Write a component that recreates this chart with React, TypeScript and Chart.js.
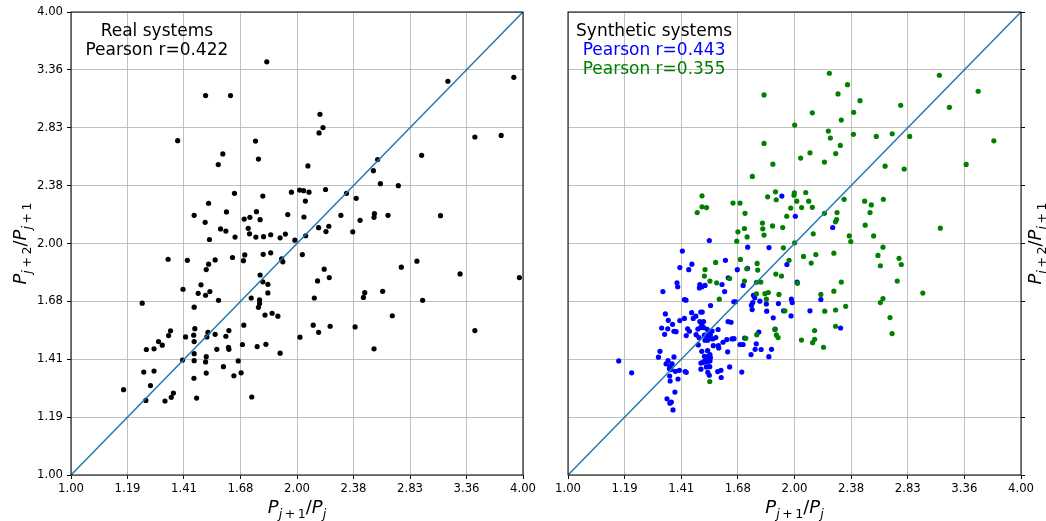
import React, { useEffect, useRef } from 'react';
import { Chart, registerables } from 'chart.js';

Chart.register(...registerables);

// ---- axis ticks (log2 spaced, 2^(k/4)) ----
const tickValues = [1, 1.18921, 1.41421, 1.68179, 2, 2.37841, 2.82843, 3.36359, 4];
const tickLabels = ['1.00', '1.19', '1.41', '1.68', '2.00', '2.38', '2.83', '3.36', '4.00'];

// ---- y = x reference line ----
const diagonal: [number, number][] = [[1, 1], [4, 4]];

// ---- annotations ----
const realNotes = ['Real systems', 'Pearson r=0.422'];
const synthNotes = ['Synthetic systems', 'Pearson r=0.443', 'Pearson r=0.355'];

// ---- Real systems: [P_{j+1}/P_j, P_{j+2}/P_{j+1}] ----
const realSystems: [number, number][] = [
  [1.823, 3.446], [1.511, 3.114], [1.631, 3.114], [3.177, 3.251], [3.889, 3.289],
  [2.146, 2.944], [2.166, 2.830], [2.140, 2.785], [1.387, 2.721], [1.761, 2.718],
  [1.593, 2.615], [1.777, 2.575], [1.571, 2.533], [2.068, 2.523], [3.451, 2.751],
  [3.741, 2.764], [2.931, 2.604], [2.561, 2.571], [2.528, 2.487], [2.583, 2.392],
  [2.729, 2.378], [1.651, 2.324], [1.525, 2.256], [1.801, 2.305], [1.966, 2.332],
  [2.016, 2.347], [2.041, 2.343], [2.075, 2.332], [2.183, 2.351], [2.052, 2.271],
  [2.328, 2.324], [2.398, 2.290], [1.459, 2.176], [1.509, 2.131], [1.611, 2.198],
  [1.701, 2.152], [1.731, 2.163], [1.766, 2.200], [1.786, 2.148], [1.944, 2.181],
  [2.043, 2.165], [2.137, 2.097], [2.205, 2.106], [2.288, 2.176], [2.427, 2.144],
  [2.536, 2.187], [2.533, 2.163], [2.644, 2.176], [3.106, 2.174], [1.582, 2.089],
  [1.722, 2.093],
  [1.608, 2.076], [1.529, 2.024], [1.654, 2.039], [1.729, 2.059], [1.763, 2.039],
  [1.805, 2.041], [1.845, 2.053], [1.899, 2.034], [1.930, 2.057], [1.987, 2.020],
  [2.054, 2.047], [2.186, 2.073], [2.373, 2.071], [1.347, 1.908], [1.429, 1.902],
  [1.514, 1.850], [1.525, 1.880], [1.556, 1.904], [1.641, 1.918], [1.697, 1.900],
  [1.704, 1.933], [1.803, 1.936], [1.845, 1.945], [1.908, 1.910], [1.915, 1.893],
  [2.033, 1.935], [1.786, 1.820], [1.801, 1.783], [1.829, 1.770], [1.829, 1.725],
  [1.738, 1.699], [1.783, 1.689], [1.783, 1.671], [1.777, 1.652], [1.813, 1.614],
  [1.853, 1.623], [1.886, 1.609], [2.130, 1.788], [2.174, 1.852], [2.208, 1.806],
  [2.109, 1.699], [2.452, 1.702], [2.462, 1.726], [2.601, 1.733], [2.754, 1.863],
  [2.889, 1.897], [3.298, 1.826], [3.956, 1.806], [2.940, 1.687], [2.679, 1.611],
  [2.390, 1.558], [2.214, 1.561], [2.102, 1.566], [2.137, 1.533], [2.018, 1.511],
  [2.533, 1.459], [3.451, 1.541], [1.899, 1.440], [1.818, 1.479], [1.770, 1.469],
  [1.699, 1.566], [1.692, 1.478], [1.623, 1.541], [1.608, 1.515], [1.621, 1.466],
  [1.623, 1.457], [1.556, 1.524], [1.522, 1.533], [1.517, 1.512], [1.564, 1.457],
  [1.462, 1.550], [1.457, 1.520], [1.459, 1.491], [1.421, 1.512], [1.357, 1.540],
  [1.349, 1.518], [1.308, 1.491], [1.323, 1.475], [1.260, 1.456], [1.290, 1.459],
  [1.244, 1.673], [1.410, 1.744], [1.490, 1.767], [1.477, 1.723], [1.511, 1.713],
  [1.531, 1.732], [1.572, 1.687], [1.459, 1.653], [1.408, 1.411], [1.459, 1.438],
  [1.459, 1.408], [1.511, 1.403], [1.514, 1.425], [1.514, 1.357], [1.458, 1.336],
  [1.596, 1.383], [1.670, 1.407], [1.685, 1.358], [1.648, 1.346], [1.470, 1.259],
  [1.741, 1.263], [1.175, 1.291], [1.250, 1.361], [1.290, 1.365], [1.276, 1.307],
  [1.258, 1.250], [1.334, 1.248], [1.360, 1.262], [1.369, 1.278],
];

// ---- Synthetic systems, first series (blue) ----
const syntheticBlue: [number, number][] = [
  [1.419, 1.955], [1.408, 1.861], [1.461, 1.880], [1.447, 1.849], [1.619, 1.902],
  [1.679, 1.849], [1.732, 1.856], [1.396, 1.778], [1.399, 1.757], [1.337, 1.732],
  [1.497, 1.769], [1.507, 1.757], [1.521, 1.764], [1.602, 1.769], [1.615, 1.732],
  [1.709, 1.764], [1.633, 1.805], [1.661, 1.680], [1.669, 1.680], [1.764, 1.713],
  [1.771, 1.700], [1.753, 1.663], [1.757, 1.641], [1.760, 1.676], [1.799, 1.683],
  [1.835, 1.669], [1.837, 1.633], [1.874, 1.601], [1.904, 1.671], [1.981, 1.693],
  [1.986, 1.676], [1.934, 1.635], [1.979, 1.610], [1.547, 1.661], [1.428, 1.691],
  [1.435, 1.688], [1.347, 1.620], [1.359, 1.589], [1.332, 1.553], [1.357, 1.549],
  [1.377, 1.570], [1.344, 1.524], [1.383, 1.538], [1.392, 1.536], [1.408, 1.588],
  [1.428, 1.598], [1.460, 1.626], [1.467, 1.598], [1.479, 1.609], [1.501, 1.629],
  [1.508, 1.629], [1.497, 1.583], [1.514, 1.583], [1.506, 1.569], [1.515, 1.555],
  [1.501, 1.555], [1.488, 1.548], [1.480, 1.522], [1.442, 1.549], [1.450, 1.538],
  [1.436, 1.518], [1.531, 1.547], [1.540, 1.534], [1.554, 1.539], [1.583, 1.546],
  [1.572, 1.509], [1.538, 1.504], [1.557, 1.503], [1.521, 1.497], [1.533, 1.497],
  [1.527, 1.520], [1.546, 1.522], [1.493, 1.509], [1.518, 1.520], [1.490, 1.476],
  [1.560, 1.473], [1.584, 1.473], [1.607, 1.488], [1.626, 1.500], [1.652, 1.503],
  [1.662, 1.504], [1.632, 1.583], [1.647, 1.580], [1.717, 1.507], [1.709, 1.478],
  [1.779, 1.481], [1.773, 1.457], [1.806, 1.456], [1.864, 1.457], [1.793, 1.534],
  [1.885, 1.548], [1.693, 1.478], [1.751, 1.434], [1.849, 1.425], [1.586, 1.463],
  [1.630, 1.446], [1.506, 1.448], [1.533, 1.451], [1.544, 1.434], [1.518, 1.427],
  [1.527, 1.424], [1.538, 1.425], [1.546, 1.421], [1.521, 1.408], [1.511, 1.401],
  [1.531, 1.403], [1.544, 1.407], [1.502, 1.398], [1.527, 1.382], [1.543, 1.383],
  [1.502, 1.373], [1.534, 1.360], [1.541, 1.348], [1.581, 1.363], [1.597, 1.368],
  [1.598, 1.339], [1.640, 1.382], [1.702, 1.361], [1.325, 1.448], [1.319, 1.423],
  [1.358, 1.408], [1.350, 1.395], [1.366, 1.385], [1.375, 1.395], [1.383, 1.424],
  [1.364, 1.375], [1.371, 1.371], [1.389, 1.364], [1.406, 1.368], [1.431, 1.363],
  [1.436, 1.360], [1.400, 1.333], [1.365, 1.345], [1.367, 1.325], [1.387, 1.282],
  [1.354, 1.256], [1.372, 1.244], [1.366, 1.240], [1.379, 1.215], [1.168, 1.407],
  [1.215, 1.358], [1.495, 1.751],
  [1.924, 2.305], [2.005, 2.170], [2.248, 2.098], [1.541, 2.018], [1.733, 1.978],
  [1.850, 1.976], [1.954, 1.878], [2.016, 1.782], [2.168, 1.691], [2.097, 1.635],
  [2.303, 1.553],
];

// ---- Synthetic systems, second series (green) ----
const syntheticGreen: [number, number][] = [
  [2.225, 3.330], [2.352, 3.218], [2.285, 3.130], [1.822, 3.121], [2.444, 3.067],
  [3.116, 3.310], [3.509, 3.155], [2.768, 3.025], [3.213, 3.007], [2.112, 2.958],
  [2.397, 2.962], [2.308, 2.894], [2.001, 2.851], [2.218, 2.800], [2.232, 2.743],
  [2.395, 2.773], [2.569, 2.756], [2.697, 2.778], [2.845, 2.756], [2.301, 2.683],
  [1.822, 2.699], [2.097, 2.624], [2.038, 2.583], [2.269, 2.618], [2.192, 2.552],
  [3.681, 2.720], [1.872, 2.536], [2.639, 2.521], [2.798, 2.499], [3.382, 2.534],
  [3.125, 2.094], [1.758, 2.445], [1.887, 2.335], [1.842, 2.300], [1.891, 2.280],
  [1.999, 2.328], [1.997, 2.311], [2.070, 2.330], [2.014, 2.270], [2.089, 2.270],
  [1.507, 2.307], [1.507, 2.232], [1.528, 2.227], [1.485, 2.194], [1.657, 2.257],
  [1.693, 2.257], [1.719, 2.189], [1.977, 2.224], [2.044, 2.227], [2.112, 2.229],
  [1.953, 2.170], [2.192, 2.189], [2.278, 2.194], [2.275, 2.149], [2.267, 2.134],
  [2.328, 2.283], [2.479, 2.270], [2.530, 2.245], [2.625, 2.283], [2.520, 2.194],
  [2.483, 2.113], [2.548, 2.046], [2.365, 2.046], [2.376, 2.012], [2.118, 2.059],
  [1.929, 2.098], [1.870, 2.108], [1.813, 2.126], [1.815, 2.090], [1.822, 2.051],
  [1.730, 2.040], [1.716, 2.092], [1.682, 2.071], [1.676, 2.014], [1.933, 1.974],
  [2.001, 2.004], [2.622, 1.978],
  [1.521, 1.850], [1.571, 1.890], [1.518, 1.814], [1.544, 1.787], [1.576, 1.778],
  [1.640, 1.801], [1.695, 1.907], [1.728, 1.854], [1.784, 1.884], [1.787, 1.847],
  [1.716, 1.787], [1.780, 1.781], [1.804, 1.782], [1.589, 1.693], [1.780, 1.720],
  [1.827, 1.721], [1.846, 1.727], [1.835, 1.693], [1.907, 1.717], [1.889, 1.825],
  [1.922, 1.814], [1.967, 1.902], [2.018, 1.775], [1.942, 1.635], [1.883, 1.546],
  [1.892, 1.521], [1.902, 1.509], [1.782, 1.522], [1.723, 1.506], [1.543, 1.323],
  [2.056, 1.924], [2.135, 1.935], [2.256, 1.943], [2.105, 1.886], [2.308, 1.782],
  [2.256, 1.734], [2.168, 1.717], [2.194, 1.633], [2.268, 1.639], [2.339, 1.657],
  [2.127, 1.541], [2.268, 1.561], [2.043, 1.498], [2.127, 1.501], [2.114, 1.486],
  [2.186, 1.466], [2.582, 1.930], [2.601, 1.871], [2.754, 1.913], [2.773, 1.878],
  [2.739, 1.787], [2.622, 1.696], [2.601, 1.676], [2.679, 1.602], [2.696, 1.527],
  [2.962, 1.724],
];

const toXY = (arr: [number, number][]) => arr.map(([x, y]) => ({ x, y }));

// ---- mathtext-like axis titles ----
type Seg = [string, number, boolean]; // text, level (0 main, 1 subscript), italic
const xTitleSegs: Seg[] = [
  ['P', 0, true], ['j', 1, true], ['\u2009+\u2009', 1, false], ['1', 1, false],
  ['/', 0, false], ['P', 0, true], ['j', 1, true],
];
const yTitleSegs: Seg[] = [
  ['P', 0, true], ['j', 1, true], ['\u2009+\u2009', 1, false], ['2', 1, false],
  ['/', 0, false], ['P', 0, true], ['j', 1, true], ['\u2009+\u2009', 1, false], ['1', 1, false],
];

const MAIN_SIZE = 18;
const SUB_SIZE = 12.6;
const SUB_DY = 4.5;
const FONT = '"DejaVu Sans"';

function drawSegs(ctx: CanvasRenderingContext2D, segs: Seg[], cx: number, cy: number, angle: number) {
  ctx.save();
  ctx.translate(cx, cy);
  ctx.rotate(angle);
  ctx.textBaseline = 'alphabetic';
  ctx.textAlign = 'left';
  ctx.fillStyle = '#000';
  const fontFor = (lvl: number, it: boolean) =>
    `${it ? 'italic ' : ''}${lvl ? SUB_SIZE : MAIN_SIZE}px ${FONT}`;
  let total = 0;
  for (const [t, lvl, it] of segs) {
    ctx.font = fontFor(lvl, it);
    total += ctx.measureText(t).width;
  }
  let x = -total / 2;
  for (const [t, lvl, it] of segs) {
    ctx.font = fontFor(lvl, it);
    ctx.fillText(t, x, lvl ? SUB_DY : 0);
    x += ctx.measureText(t).width;
  }
  ctx.restore();
}

function decorPlugin(cfg: {
  yTitleX: number;
  notes: string[];
  noteColors: string[];
}) {
  return {
    id: 'decor',
    afterDraw(chart: any) {
      const { ctx, chartArea } = chart;
      const { left, right, top, bottom } = chartArea;
      ctx.save();
      // frame
      ctx.strokeStyle = '#000';
      ctx.lineWidth = 1;
      ctx.strokeRect(left, top, right - left, bottom - top);
      // notes
      ctx.font = `17px ${FONT}`;
      ctx.textAlign = 'center';
      ctx.textBaseline = 'middle';
      const nx = left + 0.19 * (right - left);
      cfg.notes.forEach((t, i) => {
        ctx.fillStyle = cfg.noteColors[i];
        ctx.fillText(t, nx, 32 + i * 19);
      });
      ctx.restore();
      // axis titles
      drawSegs(ctx, xTitleSegs, (left + right) / 2, 513, 0);
      drawSegs(ctx, yTitleSegs, cfg.yTitleX, (top + bottom) / 2, -Math.PI / 2);
    },
  };
}

function makeScales(side: 'left' | 'right', yWidth: number) {
  const tickFont = { family: 'DejaVu Sans', size: 11.7 };
  const common: any = {
    type: 'logarithmic',
    min: 1,
    max: 4,
    z: 1,
    afterBuildTicks: (s: any) => {
      s.ticks = tickValues.map((v) => ({ value: v }));
    },
    grid: { color: '#b0b0b0', lineWidth: 0.8, tickColor: '#000', tickLength: 4, tickWidth: 1 },
    border: { display: false },
  };
  return {
    x: {
      ...common,
      position: 'bottom',
      ticks: {
        autoSkip: false, maxRotation: 0, minRotation: 0, padding: 3, color: '#000',
        font: tickFont, callback: (_v: any, i: number) => tickLabels[i],
      },
      afterFit: (s: any) => { s.height = 46; },
    },
    y: {
      ...common,
      position: side,
      ticks: {
        display: side === 'left', autoSkip: false, padding: 4, color: '#000',
        font: tickFont, callback: (_v: any, i: number) => tickLabels[i],
      },
      afterFit: (s: any) => { s.width = yWidth; },
    },
  };
}

const pointStyle = (color: string, order: number) => ({
  backgroundColor: color,
  borderColor: color,
  borderWidth: 0,
  pointRadius: 2.6,
  pointHoverRadius: 2.6,
  order,
});

const lineDataset = () => ({
  data: toXY(diagonal),
  showLine: true,
  borderColor: '#1f77b4',
  borderWidth: 1.5,
  pointRadius: 0,
  pointHoverRadius: 0,
  order: 0,
});

export default function App() {
  const leftRef = useRef<HTMLCanvasElement>(null);
  const rightRef = useRef<HTMLCanvasElement>(null);

  useEffect(() => {
    const left = new Chart(leftRef.current as HTMLCanvasElement, {
      type: 'scatter',
      data: {
        datasets: [
          { data: toXY(realSystems), ...pointStyle('#000000', 2) },
          lineDataset(),
        ] as any,
      },
      options: {
        responsive: false,
        animation: false,
        events: [],
        layout: { padding: { left: 0, right: 22, top: 12, bottom: 0 }, autoPadding: false } as any,
        plugins: { legend: { display: false }, tooltip: { enabled: false } },
        scales: makeScales('left', 71) as any,
      },
      plugins: [decorPlugin({ yTitleX: 26, notes: realNotes, noteColors: ['#000', '#000'] })],
    });

    const right = new Chart(rightRef.current as HTMLCanvasElement, {
      type: 'scatter',
      data: {
        datasets: [
          { data: toXY(syntheticBlue), ...pointStyle('#0000ff', 3) },
          { data: toXY(syntheticGreen), ...pointStyle('#008000', 2) },
          lineDataset(),
        ] as any,
      },
      options: {
        responsive: false,
        animation: false,
        events: [],
        layout: { padding: { left: 23, right: 0, top: 12, bottom: 0 }, autoPadding: false } as any,
        plugins: { legend: { display: false }, tooltip: { enabled: false } },
        scales: makeScales('right', 25) as any,
      },
      plugins: [decorPlugin({ yTitleX: 496, notes: synthNotes, noteColors: ['#000', '#0000ff', '#008000'] })],
    });

    return () => {
      left.destroy();
      right.destroy();
    };
  }, []);

  return (
    <div style={{ position: 'fixed', left: 0, top: 0, width: 1046, height: 521, background: '#fff' }}>
      <canvas ref={leftRef} width={545} height={521} style={{ position: 'absolute', left: 0, top: 0 }} />
      <canvas ref={rightRef} width={501} height={521} style={{ position: 'absolute', left: 545, top: 0 }} />
    </div>
  );
}
